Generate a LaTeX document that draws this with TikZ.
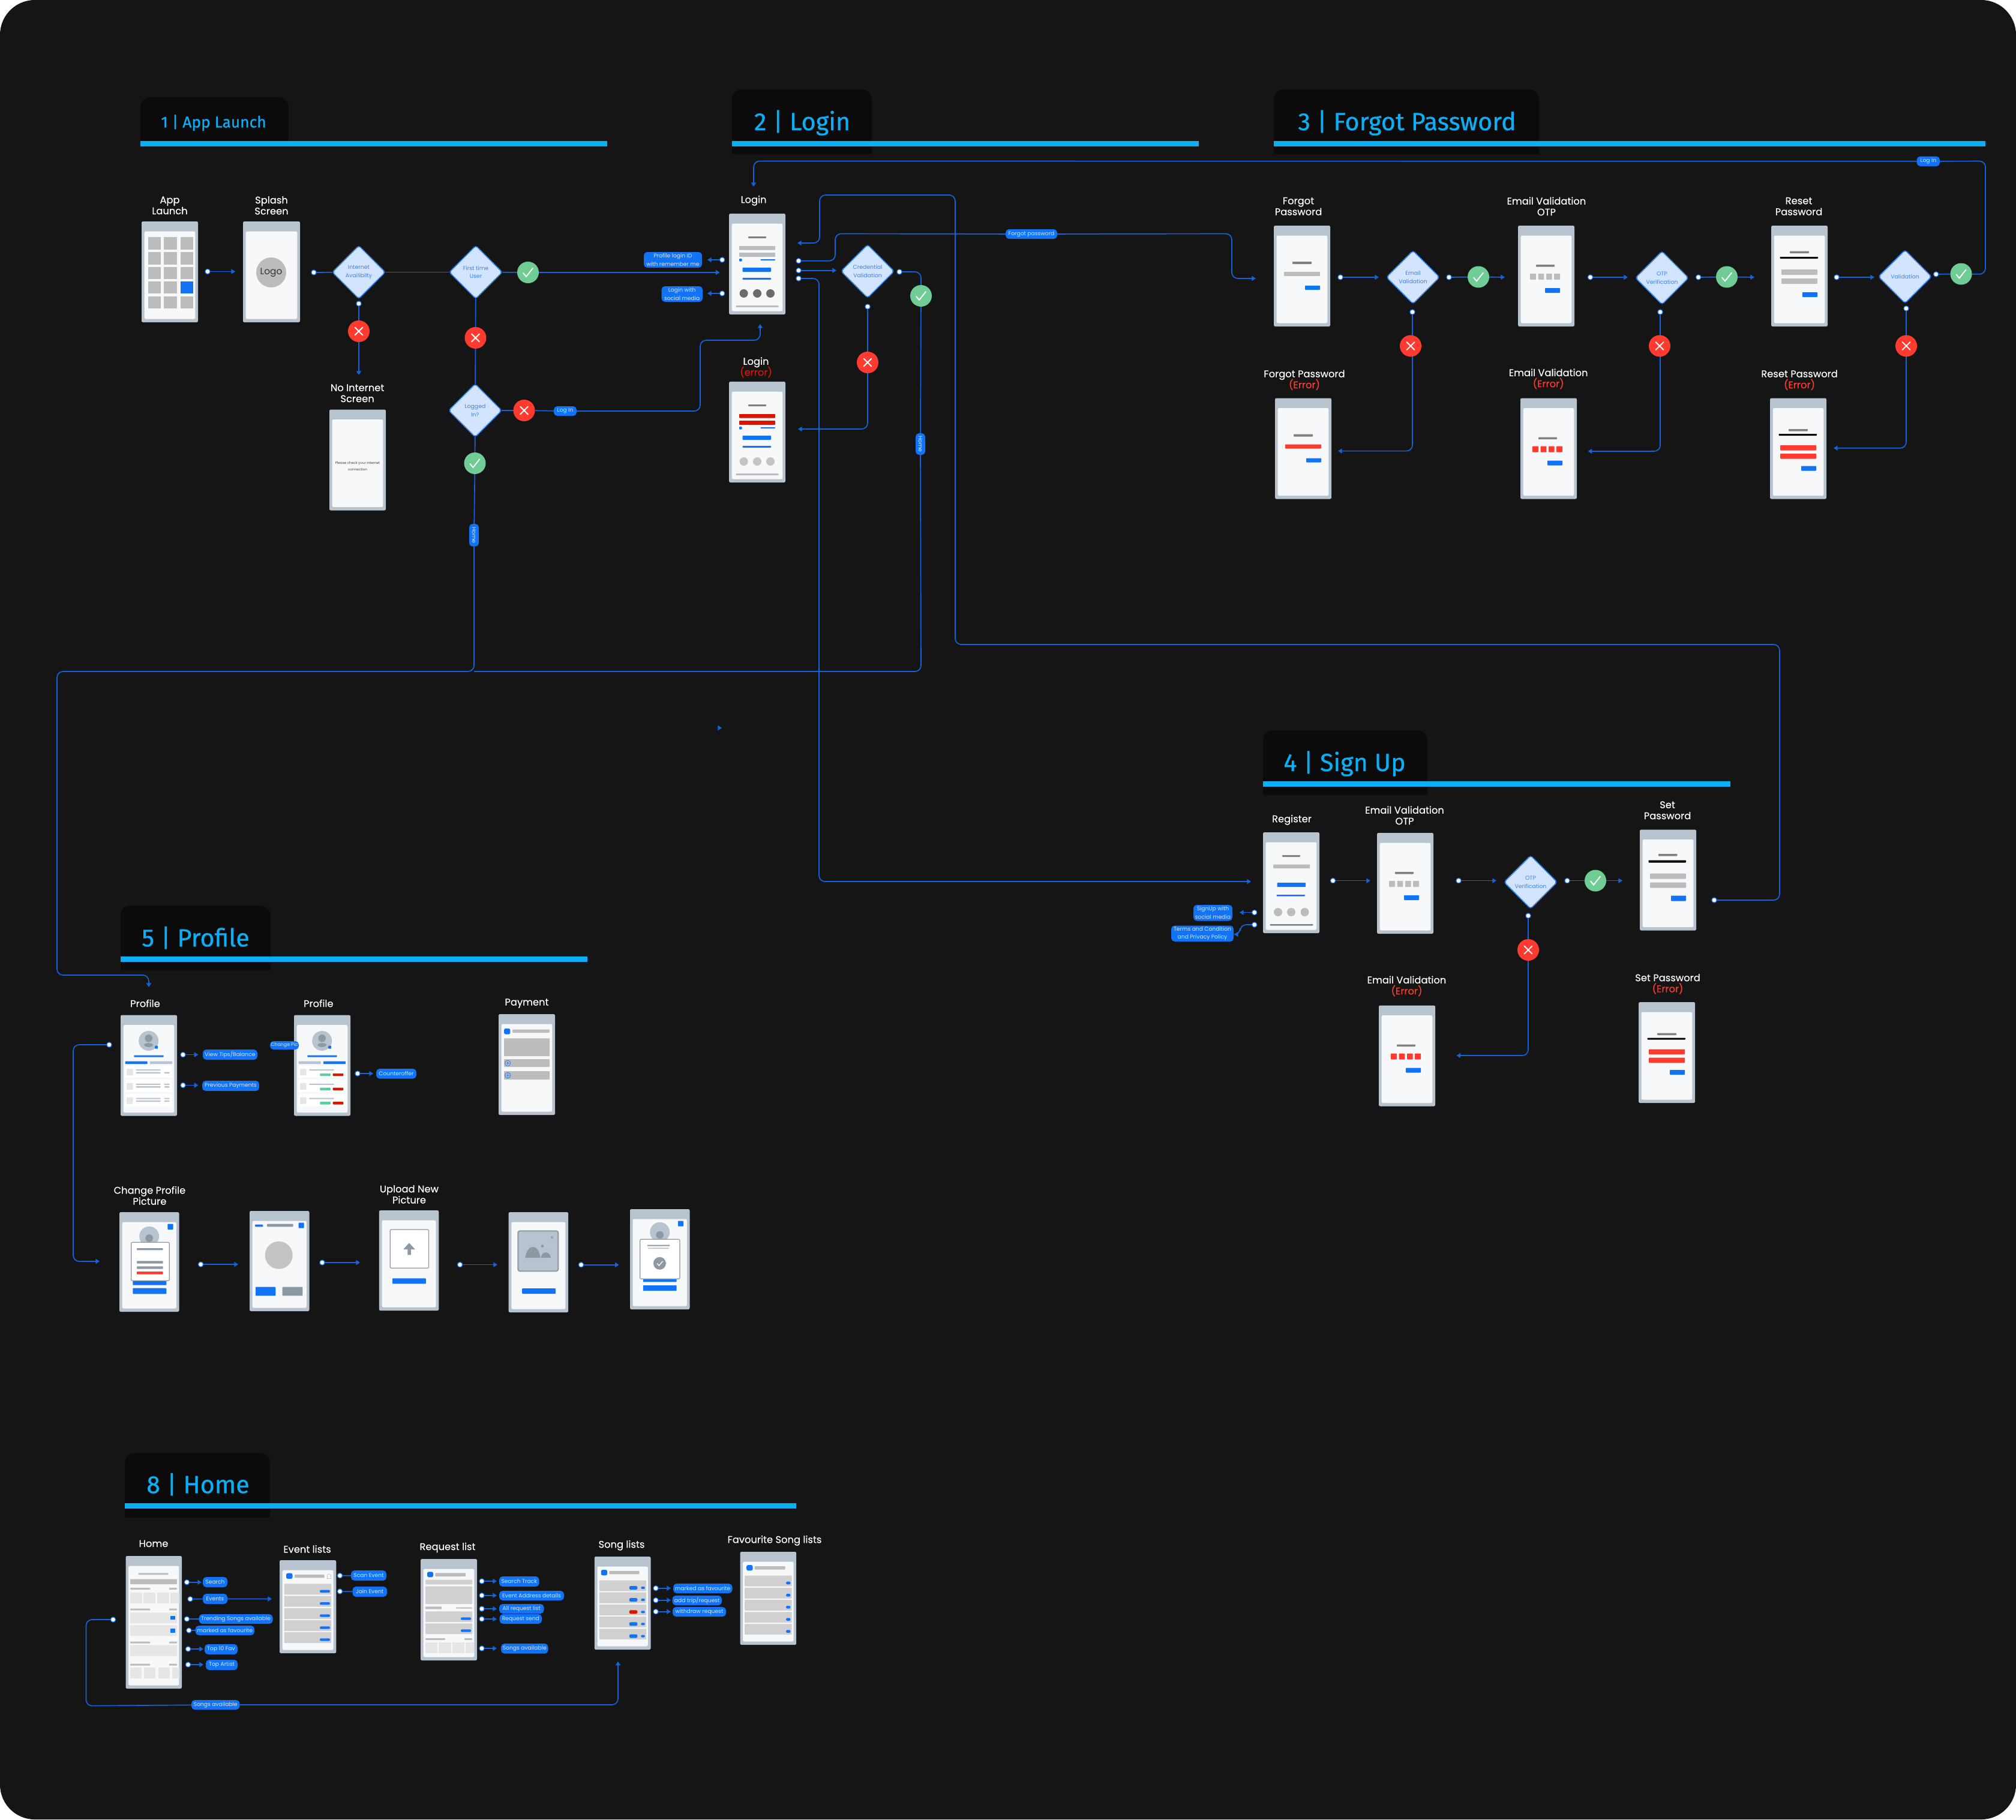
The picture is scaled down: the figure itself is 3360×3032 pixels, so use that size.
\documentclass[tikz,border=0pt]{standalone}
\usepackage{fontspec}
\setmainfont{Poppins}
\newfontfamily\secf[FakeBold=0.6]{Fira Sans}
\newfontfamily\ttlf[FakeBold=0.25]{Poppins}
\lineskiplimit=-10pt
\normallineskiplimit=-10pt
\usetikzlibrary{arrows.meta,shapes.geometric}
\definecolor{pagebg}{HTML}{151516}
\definecolor{hbg}{HTML}{0B0B0B}
\definecolor{cy}{HTML}{0AAFF5}
\definecolor{wire}{HTML}{1264DC}
\definecolor{blu}{HTML}{1274F5}
\definecolor{sl}{HTML}{B7C3CF}
\definecolor{sd}{HTML}{8D98A3}
\definecolor{inw}{HTML}{F7F8FA}
\definecolor{gy}{HTML}{BCBCBC}
\definecolor{mid}{HTML}{D0D0D0}
\definecolor{lt}{HTML}{E6E6E6}
\definecolor{dg}{HTML}{808080}
\definecolor{cir}{HTML}{6B6B6B}
\definecolor{cil}{HTML}{C4C4C4}
\definecolor{err}{HTML}{FF3B30}
\definecolor{dred}{HTML}{D91500}
\definecolor{okg}{HTML}{70CC95}
\definecolor{teal}{HTML}{5ECBA1}
\definecolor{diaf}{HTML}{D2E4FF}
\definecolor{diat}{HTML}{3A86F0}
\definecolor{bdt}{HTML}{D5E6FF}
\pgfdeclarelayer{pagelayer}
\pgfdeclarelayer{wires}
\pgfsetlayers{pagelayer,wires,main}
\tikzset{
  conn/.style={draw=wire,line width=.5pt,rounded corners=3pt},
  arr/.style={conn,-{Triangle[length=2pt,width=2.4pt]}},
  dotn/.style={circle,draw=blu,fill=white,line width=.35pt,minimum size=2.5pt,inner sep=0pt,outer sep=0pt},
  badge/.style={rectangle,fill=blu,rounded corners=1.7pt,inner sep=0pt,outer sep=0pt,text=bdt,align=center,font=\fontsize{2.75}{4.1}\selectfont},
  phone/.style={rectangle,fill=sl,rounded corners=.7pt,inner sep=0pt,outer sep=0pt},
  dia/.style={diamond,aspect=1,fill=diaf,draw=blu,line width=.65pt,dash pattern=on .5pt off .35pt,rounded corners=1.2pt,minimum width=26.6pt,minimum height=26.6pt,inner sep=0pt,outer sep=0pt,text=diat,align=center,font=\fontsize{2.8}{4.1}\selectfont},
  okn/.style={circle,fill=okg,minimum size=10.8pt,inner sep=0pt,outer sep=0pt},
  nkn/.style={circle,fill=err,minimum size=10.8pt,inner sep=0pt,outer sep=0pt},
  mk/.style={draw=white,line width=.55pt,line cap=round},
  ttl/.style={text=white,align=center,inner sep=0pt,yshift=-.1pt,font=\ttlf\fontsize{4.9}{5.5}\selectfont},
  sect/.style={text=cy,inner sep=0pt,yshift=-.2pt,font=\secf\fontsize{12.4}{14}\selectfont},
}
\newcommand\Rr[5]{\fill[#1,rounded corners=.25pt] (#2,#3) rectangle (#4,#5);}
\newcommand\Cc[4]{\fill[#1] (#2,#3) circle[radius=#4*0.3pt];}
\newcommand\Ph[6]{\node[phone,minimum width={#4*0.3pt},minimum height={#5*0.3pt}] (#1) at ({#2+#4/2},{#3+#5/2}) {};
  \begin{scope}[shift={(#2,#3)}]\fill[inw,rounded corners=.7pt] (4.7,16.5) rectangle ({#4-4.7},{#5-5.5});#6\end{scope}}
\newcommand\Dt[3]{\node[dotn] (#1) at (#2,#3) {};}
\newcommand\Cn[5]{\Dt{#1}{#2}{#3}\coordinate (#1-e) at (#4,#5);\begin{pgfonlayer}{wires}\draw[arr] (#1) -- (#1-e);\end{pgfonlayer}}
\newcommand\Bd[6]{\node[badge,minimum width={(#4-#2)*0.3pt},minimum height={(#5-#3)*0.3pt}] (#1) at ({(#2+#4)/2},{(#3+#5)/2}) {#6};}
\newcommand\Ok[3]{\node[okn] (#1) at (#2,#3) {};\begin{scope}[shift={(#2,#3)}]\draw[mk] (-8,1) -- (-3,7) -- (8,-7);\end{scope}}
\newcommand\Nk[3]{\node[nkn] (#1) at (#2,#3) {};\begin{scope}[shift={(#2,#3)}]\draw[mk] (-6.5,-6.5) -- (6.5,6.5) (-6.5,6.5) -- (6.5,-6.5);\end{scope}}
\newcommand\Dg[4]{\node[dia] (#1) at (#2,#3) {#4};}
\newcommand\Tt[4]{\node[ttl] (#1) at (#2,#3) {#4};}
\newcommand\Hb[6]{\fill[hbg] (#1,#4) [rounded corners=5pt] -- (#1,#2) -- (#3,#2) [sharp corners] -- (#3,#4) -- cycle;
  \fill[cy] (#1,#5) rectangle (#6,{#5+9});}
\newcommand\LoginC[2]{\Rr{dg}{32}{38}{62}{41}\Rr{#1}{17}{54}{77}{60.5}\Rr{#1}{17}{65}{77}{72}\Rr{blu}{17}{75}{21.5}{79.5}\Rr{blu}{52.5}{76}{77}{78}\Rr{blu}{22.5}{90}{70}{97}\Rr{blu}{22.5}{107}{70}{110}\Cc{#2}{24.6}{133}{7}\Cc{#2}{47}{133}{7}\Cc{#2}{69}{133}{7}\Rr{gy}{11.5}{153}{82.5}{156}}
\newcommand\ForgotC[1]{\Rr{dg}{31}{60}{63}{64}\Rr{#1}{17}{77}{77}{84}\Rr{blu}{52}{100}{77}{107}}
\newcommand\OtpC[1]{\Rr{dg}{30}{65}{61}{68.5}\Rr{#1}{20}{80}{30}{90}\Rr{#1}{33.7}{80}{43.3}{90}\Rr{#1}{47}{80}{56.6}{90}\Rr{#1}{60}{80}{70}{90}\Rr{blu}{45}{104}{70}{112}}
\newcommand\ResetC{\Rr{dg}{31}{42.5}{63}{46}\Rr{black}{14.5}{52}{78}{55}\Rr{gy}{17}{73}{77}{82}\Rr{gy}{17}{88}{77}{97}\Rr{blu}{52}{111}{77}{119}}
\newcommand\ResetE{\Rr{dg}{31}{51.5}{63}{55}\Rr{black}{14.5}{59.6}{78}{62.5}\Rr{err}{17}{78.5}{77}{87}\Rr{err}{17}{92.5}{77}{101}\Rr{blu}{52}{113}{77}{121}}
\newcommand\AvatarC{\Cc{sl}{46.7}{43}{16.5}\Cc{sd}{46.7}{38.7}{6.3}\fill[sd] (46.7,50) ellipse[x radius=2.2pt,y radius=1pt];\Rr{blu}{57.2}{51.2}{62.2}{56.2}\Rr{blu}{22.3}{67}{71.7}{70}}
\newcommand\CardRow[1]{\fill[white] (7.7,#1) rectangle (86,{#1+20.7});\Rr{lt}{10}{#1+5.7}{20.7}{#1+16.7}}
\begin{document}
\begin{tikzpicture}[x=0.3pt,y=-0.3pt]
\useasboundingbox (0,0) rectangle (3360,3032);
\begin{pgfonlayer}{pagelayer}
\fill[white] (0,0) rectangle (3360,3032);
\fill[pagebg,rounded corners=17.4pt] (0,0) rectangle (3360,3032);
\end{pgfonlayer}

% ---------- section headers
\Hb{234}{162}{481}{240}{234.6}{1011.6}
\node[sect,font=\secf\fontsize{7.9}{10}\selectfont] (sec1) at (356,204) {1 | App Launch};
\Hb{1220}{149}{1453}{256.5}{234.6}{1998}
\node[sect] (sec2) at (1337,204) {2 | Login};
\Hb{2123}{149}{2565}{257}{234.6}{3309}
\node[sect] (sec3) at (2345,204) {3 | Forgot Password};
\Hb{2105}{1217}{2379}{1324.5}{1302}{2884}
\node[sect] (sec4) at (2241,1272) {4 | Sign Up};
\Hb{201}{1509}{451}{1616.6}{1594}{979}
\node[sect] (sec5) at (326,1562) {5 | Profile};
\Hb{208}{2421}{450}{2529}{2505}{1327}
\node[sect] (sec8) at (330,2473) {8 | Home};

% ---------- section 1
\Tt{tApp}{283}{342}{App\\Launch}
\Tt{tSplash}{452.5}{342}{Splash\\Screen}
\Tt{tNoNet}{595.6}{655}{No Internet\\Screen}
\Ph{pApp}{236}{369}{94}{168}{%
  \foreach \yy/\yb in {26/47,51/71.5,75.5/96,100/120,124.5/145}{\foreach \xx/\xb in {10.5/32,37/58.5,64.5/85.5}{\fill[gy] (\xx,\yy) rectangle (\xb,\yb);}}
  \fill[blu] (64.5,100) rectangle (85.5,120);}
\Ph{pSplash}{405}{369}{95}{168}{\Cc{gy}{47}{85}{25}\node[text=black!80,font=\fontsize{4.6}{5}\selectfont] (tLogo) at (47,85) {Logo};}
\Ph{pNoNet}{549}{682.5}{94}{168}{\node[text=black!75,align=center,font=\fontsize{1.7}{3.1}\selectfont] (tCheck) at (47,94.5) {Please check your internet\\connection};}
\Dg{dInternet}{598}{453.6}{Internet\\Availibilty}
\Dg{dFirst}{793}{453.6}{First time\\User}
\Dg{dLogged}{792}{684}{Logged\\In?}
\Ok{cFirst}{880}{454}
\Nk{xInternet}{598}{552}
\Nk{xFirst}{792.5}{563}
\Nk{xLogged}{873.5}{684}
\Ok{cLogged}{791.5}{772}
\Bd{bLogIn}{923}{677}{961}{693}{Log In}
\Bd{bHomeA}{782}{873}{798}{910.6}{\rotatebox{-90}{Home}}
\Cn{dotApp}{346}{452.5}{392}{452.5}
\Dt{dotSplash}{523}{454}
\Dt{dotInternet}{598}{506}
\coordinate (noNetIn) at (598,625);
\coordinate (loginLeft) at (1199.5,454);
\coordinate (loginUp) at (1267,540);

% ---------- section 2
\Tt{tLogin}{1256}{334}{Login}
\Tt{tLoginE}{1260}{612}{Login\\{\color{dred}(error)}}
\Ph{pLogin}{1215}{356}{94}{168}{\LoginC{gy}{cir}}
\Ph{pLoginE}{1215}{636}{94}{168}{\LoginC{dred}{cil}}
\Bd{bProfileId}{1073}{420}{1170}{446}{Profile login ID\\with remember me}
\Bd{bSocial}{1102.5}{477}{1171}{503}{Login with\\social media}
\Cn{dotId}{1203.6}{433}{1179}{433}
\Cn{dotSocial}{1203.6}{489}{1179}{489}
\Dg{dCred}{1446}{452}{Credential\\Validation}
\Ok{cCred}{1535}{493}
\Nk{xCred}{1446}{604}
\Bd{bHomeB}{1526}{722}{1542}{758}{\rotatebox{-90}{Home}}
\Bd{bForgot}{1676}{382}{1762}{398}{Forgot password}
\Dt{dotFp}{1331}{434.7}
\Cn{dotCr}{1331}{450.7}{1394}{450.7}
\Dt{dotRe}{1331}{464}
\Dt{dotCrOk}{1499}{453}
\Dt{dotCrNo}{1446}{511}
\coordinate (loginErrIn) at (1330,715);
\coordinate (forgotIn) at (2093,464);
\coordinate (registerIn) at (2085,1469);
\coordinate (loginRight) at (1329,405);
\coordinate (loginTop) at (1256,311);
\coordinate (profileTop) at (248,1645);
\coordinate (strayA) at (1198,1213);
\coordinate (strayB) at (1203,1213);

% ---------- section 3
\Tt{tFp}{2164}{343.5}{Forgot\\Password}
\Tt{tEv}{2577.4}{343.5}{Email Validation\\OTP}
\Tt{tRp}{2998}{343.5}{Reset\\Password}
\Tt{tFpE}{2174}{633}{Forgot Password\\{\color{err}(Error)}}
\Tt{tEvE}{2580.6}{631}{Email Validation\\{\color{err}(Error)}}
\Tt{tRpE}{2999}{633}{Reset Password\\{\color{err}(Error)}}
\Ph{pFp}{2123}{376}{94}{168}{\ForgotC{gy}}
\Ph{pEv}{2530}{376}{94}{168}{\OtpC{gy}}
\Ph{pRp}{2952}{376}{94}{168}{\ResetC}
\Ph{pFpE}{2125}{663.5}{94}{168}{\ForgotC{err}}
\Ph{pEvE}{2534}{663.5}{94}{168}{\OtpC{err}}
\Ph{pRpE}{2950}{663.5}{94}{168}{\ResetE}
\Dg{dEmail}{2355}{462}{Email\\Validation}
\Dg{dOtp}{2770}{463}{OTP\\Verification}
\Dg{dVal}{3175}{461}{Validation}
\Ok{cEmail}{2464}{461.5}
\Ok{cOtp}{2878}{461.5}
\Ok{cVal}{3268.5}{456.5}
\Nk{xEmail}{2351}{576.5}
\Nk{xOtp}{2766}{576.5}
\Nk{xVal}{3177}{576.5}
\Bd{bLogTop}{3194.6}{260.6}{3233}{277}{Log In}
\Cn{dotFpOut}{2234}{462}{2298}{462}
\Cn{dotEvOut}{2650.5}{462}{2713}{462}
\Cn{dotRpOut}{3061}{462}{3124}{462}
\Dt{dotEmOk}{2415}{462}
\Dt{dotOtOk}{2830.6}{462}
\Dt{dotVaOk}{3226.7}{457}
\Dt{dotEmNo}{2354}{520}
\Dt{dotOtNo}{2767}{520}
\Dt{dotVaNo}{3177}{514}
\coordinate (evIn) at (2508,462);
\coordinate (rpIn) at (2924,462);
\coordinate (fpE) at (2230,751.6);
\coordinate (evE) at (2646.5,752);
\coordinate (rpE) at (3056,746.7);

% ---------- section 4
\Tt{tReg}{2153}{1366}{Register}
\Tt{tOtp}{2341}{1358.5}{Email Validation\\OTP}
\Tt{tSet}{2779}{1350}{Set\\Password}
\Tt{tOtpE}{2344.5}{1643}{Email Validation\\{\color{err}(Error)}}
\Tt{tSetE}{2779.5}{1639.5}{Set Password\\{\color{err}(Error)}}
\Ph{pReg}{2105}{1387}{94}{168}{\Rr{dg}{32}{38}{62}{41}\Rr{gy}{17}{53.5}{78}{60}\Rr{blu}{23.6}{84}{71}{91}\Rr{blu}{22.5}{104}{70}{106.5}\Cc{gy}{25}{133}{7}\Cc{gy}{47}{133}{7}\Cc{gy}{69.5}{133}{7}\Rr{dg}{11.5}{153}{83.5}{155.5}}
\Ph{pOtp}{2295}{1388}{94}{168}{\OtpC{gy}}
\Ph{pSet}{2733}{1382.5}{94}{168}{\Rr{dg}{31}{40.5}{62.5}{44}\Rr{black}{14.5}{51}{77}{55}\Rr{gy}{17}{73}{77}{82}\Rr{gy}{17}{88}{77}{97}\Rr{blu}{52}{110}{77}{119}}
\Ph{pOtpE}{2298}{1675.5}{94}{168}{\OtpC{err}}
\Ph{pSetE}{2731}{1670}{94}{168}{\ResetE}
\Dg{dOtpB}{2551}{1470}{OTP\\Verification}
\Ok{cOtpB}{2659}{1467.6}
\Nk{xOtpB}{2547}{1583}
\Bd{bSignUp}{1989}{1508}{2054}{1534.5}{SignUp with\\social media}
\Bd{bTerms}{1952}{1542.5}{2056}{1569}{Terms and Condition\\and Privacy Policy}
\Cn{dotSocialB}{2090.7}{1520.6}{2066}{1520.6}
\Dt{dotTerms}{2090.7}{1541}
\Cn{dotRegOut}{2221.5}{1467.6}{2284}{1467.6}
\Cn{dotOtpOut}{2431}{1467.6}{2494}{1467.6}
\Dt{dotOtpOk}{2612}{1467.6}
\Dt{dotOtpNo}{2547}{1526}
\Dt{dotSetOut}{2857}{1500}
\coordinate (setIn) at (2704,1467.6);
\coordinate (otpE) at (2427.5,1759);
\coordinate (termsIn) at (2057,1557);

% ---------- section 5
\Tt{tProfA}{242}{1671.7}{Profile}
\Tt{tProfB}{530.8}{1671.7}{Profile}
\Tt{tPay}{878}{1671.7}{Payment}
\Tt{tChange}{249.4}{1992}{Change Profile\\Picture}
\Tt{tUpload}{682}{1990}{Upload New\\Picture}
\Ph{pProfA}{201}{1691.5}{94}{168}{\AvatarC
  \Rr{blu}{7.7}{77}{44.7}{81.7}\Rr{sl}{49}{77}{86}{81.7}
  \foreach \r in {84,107.7,131.3}{\CardRow{\r}\Rr{sl}{25.7}{\r+6.7}{66.7}{\r+8.7}\Rr{sl}{25.7}{\r+11}{66.7}{\r+13.3}\Rr{sl}{72.7}{\r+11}{81.7}{\r+13.3}}
  \foreach \r in {107.7,131.3}{\Rr{sl}{72.7}{\r+6.7}{81.7}{\r+8.7}}}
\Ph{pProfB}{490}{1691.5}{94}{168}{\AvatarC
  \Rr{sl}{7.7}{77}{44.7}{81.7}\Rr{blu}{49}{77}{86}{81.7}
  \foreach \r in {84,107.7,131.3}{\CardRow{\r}\Rr{sl}{25.3}{\r+6.7}{67}{\r+8.7}\Rr{teal}{43.3}{\r+13.3}{61}{\r+17.7}\Rr{dred}{64.7}{\r+13.3}{82.3}{\r+17.7}}}
\Ph{pPay}{831}{1690}{94}{168}{\fill[blu,rounded corners=.8pt] (9,24) rectangle (19.4,33.5);\Rr{gy}{23}{25.7}{85}{31}\Rr{gy}{9}{40.4}{85}{70}\Rr{gy}{9}{75}{85}{88}\Rr{gy}{9}{95}{85}{109}
  \foreach \c in {81.7,102}{\draw[blu,line width=.2pt] (15.2,\c) circle[radius=1.4pt] (12.5,\c) -- (17.9,\c) (15.2,\c-2.7) -- (15.2,\c+2.7);}}
\Ph{pChange}{199}{2020}{99.5}{166}{\Rr{blu}{80.3}{19.7}{89.7}{29}\Cc{sl}{49.7}{40.3}{16.5}\Cc{sd}{49.7}{43.3}{6.3}
  \Rr{blu}{22.3}{110}{78.3}{121.7}\Rr{blu}{22.3}{126.7}{78.3}{136.3}
  \filldraw[fill=white,draw=sd,line width=.35pt,rounded corners=.6pt] (19.7,50.3) rectangle (83.3,114.3);
  \Rr{sd}{29}{60}{72.7}{63.3}\Rr{sd}{29}{81.3}{72.7}{85.7}\Rr{sd}{29}{90.3}{72.7}{94.7}\Rr{err}{29}{99}{72.7}{103.7}}
\Ph{pCrop}{416}{2018}{99.5}{167}{\Rr{blu}{9}{22.7}{22.3}{26.3}\Rr{sd}{29}{21.7}{72.7}{26.3}\Rr{blu}{81.7}{19.7}{90.7}{28.7}\Cc{cil}{48.7}{73.7}{23}\Rr{blu}{10}{126.7}{43.3}{141.3}\Rr{sd}{54.7}{126.7}{88.3}{141.3}}
\Ph{pUpload}{631.8}{2017}{99.5}{167}{\filldraw[fill=white,draw=sd,line width=.35pt,rounded corners=.6pt] (18.4,32) rectangle (82.7,96.3);
  \fill[sd] (50,54.3) -- (60,65) -- (53,65) -- (53,74.3) -- (47.5,74.3) -- (47.5,65) -- (40.5,65) -- cycle;\Rr{blu}{22.2}{113.3}{78}{122.3}}
\Ph{pPreview}{847.6}{2020}{99.5}{167}{\filldraw[fill=sl,draw=sd,line width=.6pt,rounded corners=1pt] (15.7,31.3) rectangle (82.7,98.3);
  \fill[sd] (27.9,76) .. controls (31,52) and (50,52) .. (53,76) -- cycle;\fill[sd] (53.8,76) .. controls (56,64) and (68,64) .. (70.6,76) -- cycle;\Cc{sd}{56.4}{56.7}{2.3}
  \draw[sd,line width=.35pt] (70.4,40.3) -- (74.4,44.3) (70.4,44.3) -- (74.4,40.3);\Rr{blu}{22.6}{127}{78.4}{136}}
\Ph{pDone}{1050}{2015}{99.5}{167}{\Rr{blu}{80}{19.7}{89}{28.7}\Cc{sl}{49.7}{38.3}{16.5}\Cc{sd}{49.7}{43}{6.3}\Rr{blu}{21.8}{112}{77.7}{121.3}\Rr{blu}{21.8}{127}{77.7}{136}
  \filldraw[fill=white,draw=sd,line width=.35pt,rounded corners=.6pt] (16.8,50.3) rectangle (83,116.3);
  \Rr{sd}{28.7}{59.7}{66.5}{61.7}\Rr{sl}{30}{64.3}{65}{66}\Cc{sd}{49.4}{90.3}{10.5}\draw[mk,line width=.4pt] (45.4,90.8) -- (48.4,94) -- (54.4,87);}
\Bd{bTips}{338}{1749}{429}{1766}{View Tips/Balance}
\Bd{bPrev}{337}{1801}{432}{1818}{Previous Payments}
\Bd{bPic}{450}{1735}{498}{1749}{\fontsize{2.35}{3}\selectfont Change Pic}
\Bd{bCounter}{627}{1781}{694}{1797.5}{Counteroffer}
\Cn{dotTips}{305}{1757.6}{330.4}{1757.6}
\Cn{dotPrev}{305}{1808.5}{330.4}{1808.5}
\Cn{dotCounter}{596}{1789}{622}{1789}
\Dt{dotProfile}{182}{1741}
\coordinate (changeIn) at (166,2102);
\Cn{dotChA}{334.6}{2107}{397}{2107}
\Cn{dotChB}{537}{2104}{600}{2104}
\Cn{dotChC}{766.6}{2107.5}{829}{2107.5}
\Cn{dotChD}{968.5}{2107.7}{1031.7}{2107.7}

% ---------- section 8
\Tt{tHome}{256}{2572}{Home}
\Tt{tEvents}{512}{2581}{Event lists}
\Tt{tReq}{746}{2578.7}{Request list}
\Tt{tSong}{1036}{2575}{Song lists}
\Tt{tFav}{1291}{2567}{Favourite Song lists}
\Ph{pHome}{209.5}{2593}{93.5}{221}{\Rr{gy}{21}{28.3}{71}{31.3}\Rr{gy}{7.6}{38.7}{85.4}{47}
  \foreach \y in {53,87.7,142.7,179.7}{\Rr{gy}{7.6}{\y}{40.8}{\y+3}\Rr{gy}{72.4}{\y}{85.4}{\y+3}}
  \foreach \xa/\xb in {7.6/27.4,29.9/49.7,52.6/72.4,74.5/89}{\fill[lt] (\xa,60.7) rectangle (\xb,78.7);}
  \foreach \ya/\yb in {94.3/112,115.3/133.3,148.7/166.7}{\Rr{lt}{7.6}{\ya}{85.4}{\yb}}
  \fill[blu] (74.5,100) rectangle (82.5,106.3);\fill[blu] (74.5,121.3) rectangle (82.5,127.7);
  \foreach \xa/\xb in {7.6/26.5,30.7/49.7,54/73.2,77.6/89}{\fill[lt] (\xa,186) rectangle (\xb,203.7);}}
\Ph{pEvent}{466}{2600}{94.3}{155}{\fill[blu,rounded corners=.8pt] (11,21.7) rectangle (21.5,31);\Rr{gy}{25}{24}{74.5}{29.3}\draw[gy,line width=.3pt,dash pattern=on .5pt off .3pt] (79.5,23.7) rectangle (85,30);
  \foreach \r in {39.3,59.7,80,100,120}{\Rr{mid}{7.6}{\r}{86.3}{\r+18}\fill[blu,rounded corners=.6pt] (67,\r+10.3) rectangle (84,\r+14.7);}}
\Ph{pRequest}{701}{2598}{94}{169}{\fill[blu,rounded corners=.8pt] (11,21.3) rectangle (21,30.3);\Rr{gy}{24.4}{23.3}{75}{29}\Rr{mid}{8}{34.7}{86}{42.3}\Rr{mid}{8}{45.7}{86}{75}\Rr{gy}{8}{79.3}{35}{83.7}\Rr{gy}{59}{80.7}{86}{82.7}
  \foreach \r in {87.3,107.3}{\Rr{mid}{8}{\r}{86}{\r+17.7}\fill[blu,rounded corners=.6pt] (67,\r+10) rectangle (84,\r+14.4);}
  \Rr{gy}{8}{132}{41}{135}\Rr{gy}{73}{132}{86}{135}
  \foreach \xa/\xb in {8/27.8,30.3/50.5,52.7/73,75/89}{\fill[lt] (\xa,138.7) rectangle (\xb,156.7);}}
\Ph{pSong}{990.8}{2594}{93.7}{155}{\fill[blu,rounded corners=.8pt] (11,22) rectangle (21.3,31.3);\Rr{gy}{24.5}{24}{74.7}{29.3}
  \foreach \r/\cl in {39.7/blu,59.7/blu,80/dred,100/blu,120.3/blu}{\Rr{mid}{8}{\r}{86.2}{\r+17.8}\fill[\cl,rounded corners=.7pt] (58,\r+9.3) rectangle (71.6,\r+15.3);\fill[blu,rounded corners=.6pt] (77.5,\r+10.3) rectangle (84,\r+14.3);}}
\Ph{pFav}{1233.5}{2586}{93.7}{155}{\fill[blu,rounded corners=.8pt] (10.7,22) rectangle (21,31.3);\Rr{gy}{24}{24}{75}{29.7}
  \foreach \r in {39.7,60,80,100.3,120.3}{\Rr{mid}{7.5}{\r}{86.2}{\r+17.8}\fill[blu,rounded corners=.6pt] (76.7,\r+10) rectangle (83.8,\r+14.7);}}
\Bd{bSearch}{338}{2628}{379}{2645}{Search}
\Bd{bEvents}{338}{2656}{379}{2673}{Events}
\Bd{bTrend}{331.6}{2690}{454.5}{2706}{Trending Songs available}
\Bd{bMarked}{325.7}{2709}{424}{2725}{marked as favourite}
\Bd{bTop}{341}{2740}{396}{2757}{Top 10 Fav}
\Bd{bArtist}{343}{2766}{396}{2783}{Top Artist}
\Bd{bScan}{585}{2617}{644}{2634}{Scan Event}
\Bd{bJoin}{587.5}{2644}{645}{2661}{Join Event}
\Bd{bSongsA}{319}{2833}{399.4}{2849}{Songs available}
\Cn{dotSearch}{311.4}{2636.7}{336}{2636.7}
\Dt{dotEvents}{317}{2664.7}
\Dt{dotTrend}{311.4}{2698}
\Dt{dotMarked}{314.8}{2717}
\Cn{dotTop}{313.5}{2748}{339}{2748}
\Cn{dotArtist}{313.5}{2774}{339}{2774}
\Dt{dotScan}{566.5}{2625.7}
\Dt{dotJoin}{566.5}{2652}
\Dt{dotHome}{188.5}{2699}
\coordinate (eventIn) at (453,2664.5);
\coordinate (songIn) at (1030,2768.7);
\Bd{bTrack}{832}{2627}{898.6}{2644}{Search Track}
\Bd{bAddr}{832}{2651}{940}{2667}{Event Address details}
\Bd{bAll}{832}{2673}{906.5}{2689}{All  request list}
\Bd{bSend}{832.6}{2690}{903}{2706}{Request send}
\Bd{bSongsB}{835}{2739}{913.6}{2755.6}{Songs available}
\Cn{dotTrack}{803}{2635}{828}{2635}
\Cn{dotAddr}{803}{2658.7}{828}{2658.7}
\Cn{dotAll}{803}{2681}{828}{2681}
\Cn{dotSend}{803}{2698}{828}{2698}
\Cn{dotSongs}{803}{2747}{828}{2747}
\Bd{bFavS}{1122}{2639}{1220.5}{2655}{marked as favourite}
\Bd{bTrip}{1120.5}{2659}{1203}{2675}{add trip/request}
\Bd{bWith}{1121}{2678}{1210}{2694}{withdraw request}
\Cn{dotFavS}{1093}{2646.7}{1118}{2646.7}
\Cn{dotTrip}{1093}{2666.7}{1118}{2666.7}
\Cn{dotWith}{1093}{2685.7}{1118}{2685.7}

% ---------- connectors
\begin{pgfonlayer}{wires}
\draw[conn] (dotSplash) -- (dInternet);
\draw[conn] (dInternet) -- (dFirst);
\draw[conn] (dFirst) -- (cFirst);
\draw[arr] (cFirst) -- (loginLeft);
\draw[conn] (dotInternet) -- (xInternet);
\draw[arr] (xInternet) -- (noNetIn);
\draw[conn] (dFirst) -- (xFirst);
\draw[conn] (xFirst) -- (dLogged);
\draw[conn] (dLogged) -- (xLogged);
\draw[conn] (xLogged) -- (bLogIn);
\draw[arr] (bLogIn.east) -- (1167,685) -- (1167,567) -- (1267,567) -- (loginUp);
\draw[conn] (dLogged) -- (cLogged);
\draw[conn] (cLogged) -- (bHomeA);
\draw[arr] (bHomeA.south) -- (790,1119) -- (95,1119) -- (95,1625) -- (248,1625) -- (profileTop);
\draw[conn] (dotCrOk) -- (1535,453) -- (cCred);
\draw[conn] (cCred) -- (bHomeB);
\draw[conn] (bHomeB.south) -- (1535,1119) -- (790,1119);
\draw[conn] (dotCrNo) -- (xCred);
\draw[arr] (xCred) -- (1446,715) -- (loginErrIn);
\draw[conn] (dotFp) -- (1392,434.7) -- (1392,389.5) -- (bForgot);
\draw[arr] (bForgot) -- (2053,389.5) -- (2053,464) -- (forgotIn);
\draw[arr] (dotRe) -- (1365,464) -- (1365,1469) -- (registerIn);
\draw[arr] (dotSetOut) -- (2966,1500) -- (2966,1074) -- (1592,1074) -- (1592,325) -- (1366,325) -- (1366,405) -- (loginRight);
\draw[conn] (dotEmOk) -- (cEmail);
\draw[arr] (cEmail) -- (evIn);
\draw[conn] (dotOtOk) -- (cOtp);
\draw[arr] (cOtp) -- (rpIn);
\draw[conn] (dotVaOk) -- (cVal);
\draw[conn] (cVal) -- (3309,457) -- (3309,268.5) -- (bLogTop);
\draw[arr] (bLogTop) -- (1256,268.5) -- (loginTop);
\draw[arr] (dotEmNo) -- (2354,751.6) -- (fpE);
\draw[arr] (dotOtNo) -- (2767,752) -- (evE);
\draw[arr] (dotVaNo) -- (3177,746.7) -- (rpE);
\draw[conn] (dotOtpOk) -- (cOtpB);
\draw[arr] (cOtpB) -- (setIn);
\draw[arr] (dotOtpNo) -- (2547,1759) -- (otpE);
\draw[arr] (dotTerms) -- (2067,1541) -- (2067,1557) -- (termsIn);
\draw[arr] (dotProfile) -- (122,1741) -- (122,2102) -- (changeIn);
\draw[arr] (dotEvents) -- (bEvents) -- (eventIn);
\draw[conn] (dotTrend) -- (bTrend);
\draw[conn] (dotMarked) -- (bMarked);
\draw[conn] (dotScan) -- (bScan);
\draw[conn] (dotJoin) -- (bJoin);
\draw[conn] (dotHome) -- (143.5,2699) -- (143.5,2842.7) -- (bSongsA);
\draw[arr] (bSongsA) -- (1030,2841) -- (songIn);
\draw[arr] (strayA) -- (strayB);
\end{pgfonlayer}
\end{tikzpicture}
\end{document}
